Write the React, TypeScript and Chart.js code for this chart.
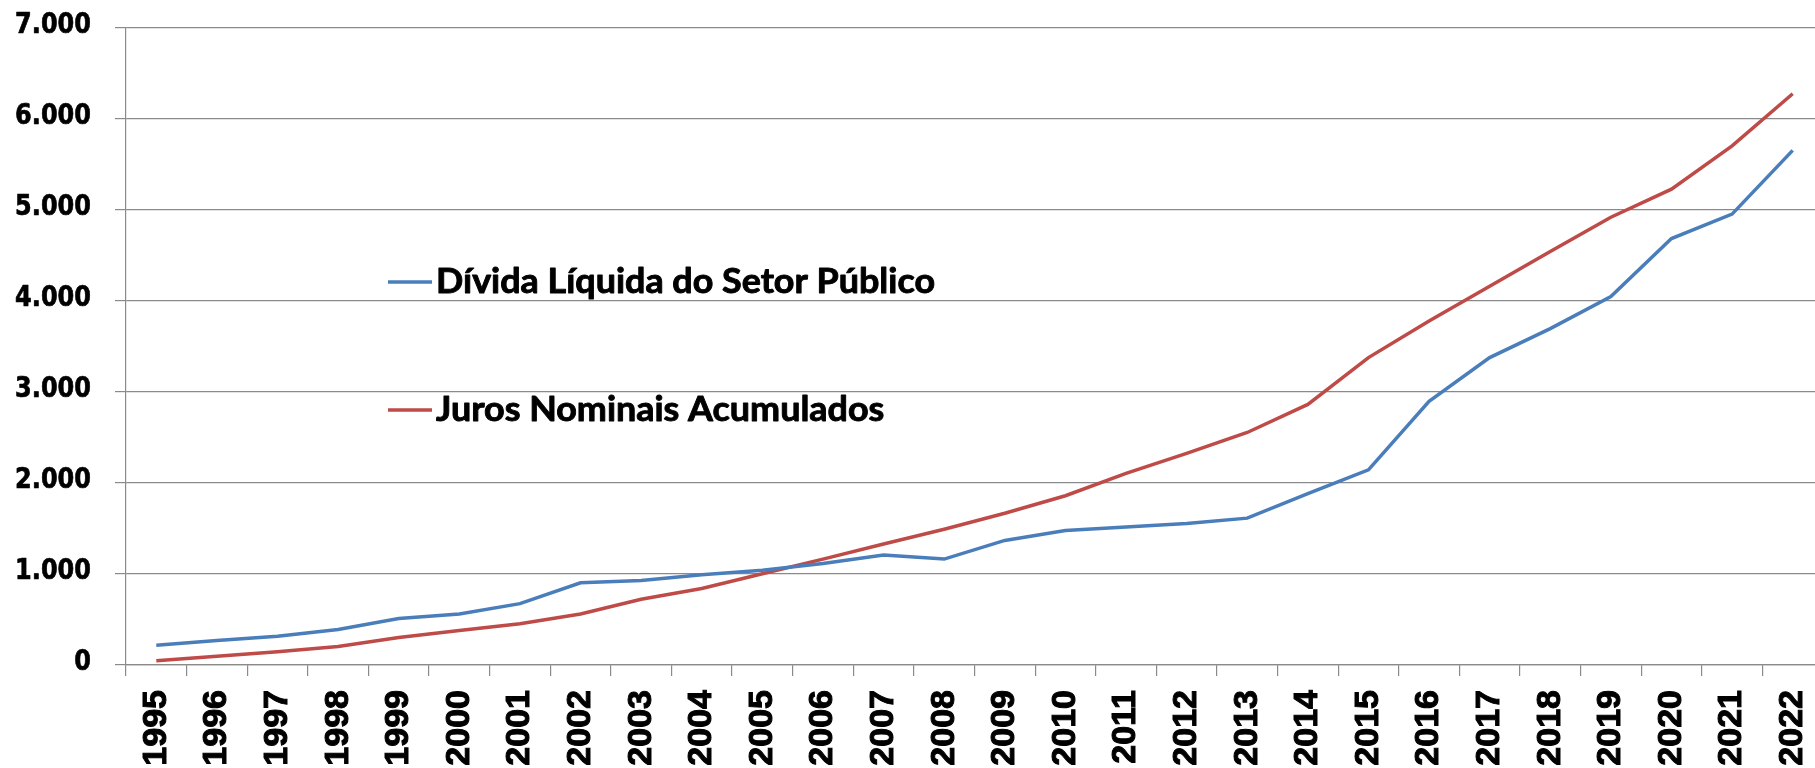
import React, { useEffect, useRef } from "react";
import { Chart, registerables } from "chart.js";

Chart.register(...registerables);

const years = [
  "1995", "1996", "1997", "1998", "1999", "2000", "2001", "2002", "2003", "2004",
  "2005", "2006", "2007", "2008", "2009", "2010", "2011", "2012", "2013", "2014",
  "2015", "2016", "2017", "2018", "2019", "2020", "2021", "2022",
];

const dividaLiquida = [
  218, 268, 316, 390, 512, 561, 674, 904, 928, 992,
  1041, 1115, 1208, 1164, 1369, 1477, 1516, 1556, 1614, 1884,
  2144, 2898, 3378, 3696, 4049, 4686, 4955, 5655,
];

const jurosAcumulados = [
  47, 96, 145, 204, 302, 380, 453, 561, 723, 840,
  1002, 1164, 1330, 1492, 1668, 1860, 2105, 2325, 2555, 2864,
  3378, 3780, 4162, 4544, 4921, 5229, 5705, 6277,
];

const seriesLabels = ["Dívida Líquida do Setor Público", "Juros Nominais Acumulados"];
const seriesColors = ["#4A7EBB", "#BE4B48"];

const yMin = 0;
const yMax = 7000;
const yStep = 1000;

const formatThousands = (v: number) => {
  const s = Math.round(v).toString();
  return s.replace(/\B(?=(\d{3})+(?!\d))/g, ".");
};

const insideLegend = {
  id: "insideLegend",
  afterDatasetsDraw(chart: any) {
    const ctx = chart.ctx as CanvasRenderingContext2D;
    const o = chart.options.plugins.insideLegend;
    ctx.save();
    ctx.font = o.font;
    const w0 = ctx.measureText(chart.data.datasets[0].label).width;
    const sx = o.targetWidth / w0;
    ctx.restore();
    chart.data.datasets.forEach((ds: any, i: number) => {
      ctx.save();
      ctx.strokeStyle = ds.borderColor;
      ctx.lineWidth = o.lineWidth;
      ctx.lineCap = "butt";
      ctx.beginPath();
      ctx.moveTo(o.x, o.lineYs[i]);
      ctx.lineTo(o.x + o.lineLen, o.lineYs[i]);
      ctx.stroke();
      ctx.font = o.font;
      ctx.fillStyle = "#000";
      ctx.strokeStyle = "#000";
      ctx.lineWidth = o.textStroke;
      ctx.lineJoin = "round";
      ctx.textBaseline = "alphabetic";
      ctx.textAlign = "left";
      ctx.translate(o.x + o.lineLen + o.gap, o.baselines[i]);
      ctx.scale(sx, 1);
      ctx.fillText(ds.label, 0, 0);
      ctx.strokeText(ds.label, 0, 0);
      ctx.restore();
    });
  },
};

// Draws the y tick labels (values taken from the y scale's own ticks), slightly stretched vertically
const yLabels = {
  id: "yLabels",
  afterDraw(chart: any) {
    const ctx = chart.ctx as CanvasRenderingContext2D;
    const o = chart.options.plugins.yLabels;
    const scale = chart.scales.y;
    ctx.save();
    ctx.font = o.font;
    ctx.fillStyle = "#000";
    ctx.strokeStyle = "#000";
    ctx.lineWidth = o.stroke;
    ctx.lineJoin = "round";
    ctx.textAlign = "right";
    ctx.textBaseline = "middle";
    scale.ticks.forEach((t: any) => {
      const y = scale.getPixelForValue(t.value);
      ctx.save();
      ctx.translate(scale.right - o.gapFromAxis, y + o.dy);
      ctx.scale(1, o.scaleY);
      const txt = formatThousands(t.value);
      ctx.fillText(txt, 0, 0);
      ctx.strokeText(txt, 0, 0);
      ctx.restore();
    });
    ctx.restore();
  },
};

export default function App() {
  const ref = useRef<HTMLCanvasElement | null>(null);

  useEffect(() => {
    if (!ref.current) return;
    const chart = new Chart(ref.current, {
      type: "line",
      data: {
        labels: years,
        datasets: [
          {
            label: seriesLabels[0],
            data: dividaLiquida,
            borderColor: seriesColors[0],
            backgroundColor: seriesColors[0],
            borderWidth: 3.5,
            pointRadius: 0,
            tension: 0,
          },
          {
            label: seriesLabels[1],
            data: jurosAcumulados,
            borderColor: seriesColors[1],
            backgroundColor: seriesColors[1],
            borderWidth: 3.5,
            pointRadius: 0,
            tension: 0,
          },
        ],
      },
      options: {
        responsive: false,
        animation: false,
        devicePixelRatio: 1,
        layout: { padding: { top: 28, right: 17, left: 0, bottom: 0 } },
        plugins: {
          legend: { display: false },
          tooltip: { enabled: false },
          insideLegend: {
            x: 388,
            lineLen: 44,
            gap: 4,
            lineWidth: 3.5,
            lineYs: [282, 410],
            baselines: [293, 421],
            font: "bold 34px Lato",
            textStroke: 0.9,
            targetWidth: 499,
          },
          yLabels: {
            font: "bold 24px 'DejaVu Sans'",
            stroke: 0.6,
            gapFromAxis: 35,
            dy: -2,
            scaleY: 1.2,
          },
        } as any,
        scales: {
          x: {
            type: "category",
            offset: true,
            grid: {
              display: true,
              drawOnChartArea: false,
              drawTicks: true,
              tickLength: 11,
              color: "#8A8A8A",
              lineWidth: 1.2,
              offset: true,
            },
            border: { display: true, color: "#8A8A8A", width: 1.2 },
            ticks: {
              autoSkip: false,
              minRotation: 90,
              maxRotation: 90,
              padding: 14,
              color: "#000",
              textStrokeColor: "#000",
              textStrokeWidth: 1,
              font: { family: "Liberation Sans", weight: "bold", size: 34 },
            },
            afterFit: (scale: any) => {
              scale.height = 103;
              scale.paddingLeft = 0;
              scale.paddingRight = 0;
            },
          },
          y: {
            min: yMin,
            max: yMax,
            grid: {
              color: "#8A8A8A",
              lineWidth: 1.2,
              tickLength: 11,
              drawTicks: true,
            },
            border: { display: true, color: "#8A8A8A", width: 1.2 },
            ticks: {
              display: false,
              stepSize: yStep,
            },
            afterFit: (scale: any) => {
              scale.width = 126;
              scale.paddingTop = 0;
              scale.paddingBottom = 0;
            },
          },
        },
      },
      plugins: [insideLegend, yLabels],
    });
    return () => chart.destroy();
  }, []);

  return (
    <div
      style={{
        position: "fixed",
        left: 0,
        top: 0,
        width: 1815,
        height: 768,
        overflow: "hidden",
        background: "#fff",
      }}
    >
      <canvas ref={ref} width={1840} height={768} style={{ display: "block" }} />
    </div>
  );
}
